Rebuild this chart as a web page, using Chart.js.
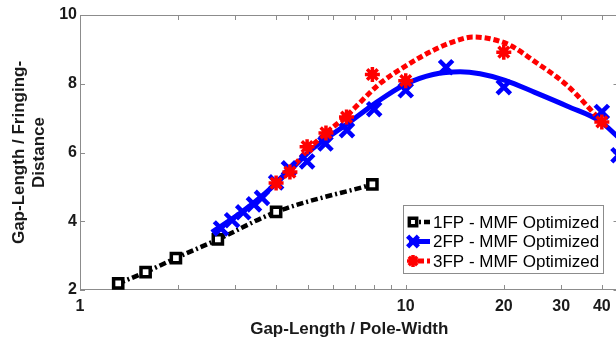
<!DOCTYPE html>
<html>
<head>
<meta charset="utf-8">
<script src="https://cdn.jsdelivr.net/npm/chart.js@4/dist/chart.umd.min.js"></script>
<style>
  html, body { margin: 0; padding: 0; background: #fff; overflow: hidden; width: 616px; height: 345px; }
  canvas { display: block; }
</style>
</head>
<body>
<canvas id="c" width="620" height="345"></canvas>
<script>
// ---- data ----
const legendLabels = ['1FP - MMF Optimized', '2FP - MMF Optimized', '3FP - MMF Optimized'];

// 1FP measured points (black squares, dash-dot line)
const fp1X = [1.31, 1.59, 1.97, 2.65, 4.0, 7.9];
const fp1Y = [2.19, 2.52, 2.93, 3.47, 4.27, 5.07];

// 2FP measured points (blue crosses)
const fp2X = [2.71, 2.93, 3.17, 3.42, 3.62, 4.0, 4.38, 4.98, 5.67, 6.6, 8.0, 10, 13.3, 20, 40, 45];
const fp2Y = [3.79, 4.03, 4.26, 4.49, 4.68, 5.13, 5.54, 5.74, 6.26, 6.65, 7.26, 7.81, 8.48, 7.90, 7.18, 5.92];

// 3FP measured points (red asterisks)
const fp3X = [4.0, 4.41, 4.98, 5.69, 6.58, 7.9, 10, 20, 40];
const fp3Y = [5.11, 5.43, 6.17, 6.57, 7.03, 8.27, 8.09, 8.92, 6.89];

// 2FP fitted curve (blue solid)
const fit2X = [2.54, 3.10, 3.70, 4.41, 5.19, 6.59, 8.05, 9.95, 12.13, 14.68, 16.91, 20.18, 24.9, 31.5, 39.5, 45];
const fit2Y = [3.68, 4.23, 4.81, 5.48, 6.12, 6.82, 7.43, 7.98, 8.27, 8.35, 8.29, 8.10, 7.75, 7.34, 6.91, 6.44];

// 3FP fitted curve (red dashed)
const fit3X = [4.0, 4.41, 4.98, 5.69, 6.60, 8.34, 10.09, 12.13, 14.37, 16.09, 18.15, 20.9, 24.6, 31.3, 40];
const fit3Y = [5.10, 5.48, 6.06, 6.56, 7.08, 8.01, 8.54, 8.97, 9.26, 9.36, 9.31, 9.12, 8.68, 7.95, 6.89];

// axis ticks
const xTickValues = [1, 2, 3, 4, 5, 6, 7, 8, 9, 10, 20, 30, 40];
const xLabelValues = [1, 10, 20, 30, 40];
const yTickValues = [2, 4, 6, 8, 10];

// ---- helpers ----
const pts = (xs, ys) => xs.map((x, i) => ({ x: x, y: ys[i] }));
const FONT = "'Liberation Sans', Arial, sans-serif";
const BLACK = '#000000', BLUE = '#0000ff', RED = '#ff0000';

const lineStyles = [
  { color: BLACK, width: 4.5, dash: [7, 3, 2, 3], point: 'rect', radius: 6.5, pbw: 3.5, bg: '#ffffff' },
  { color: BLUE, width: 5, dash: [], point: 'crossRot', radius: 9.5, pbw: 4.5, bg: BLUE },
  { color: RED, width: 5, dash: [6, 3], point: 'star', radius: 7.5, pbw: 3.5, bg: RED }
];

const framePlugin = {
  id: 'frame',
  beforeDatasetsDraw(chart) {
    const { ctx, chartArea: a, scales: { x, y } } = chart;
    ctx.save();
    ctx.strokeStyle = '#8c8c8c';
    ctx.lineWidth = 1;
    ctx.strokeRect(Math.round(a.left) + 0.5, Math.round(a.top) + 0.5,
      Math.round(a.right - a.left) - 1, Math.round(a.bottom - a.top) - 1);
    ctx.beginPath();
    x.ticks.forEach(t => {
      const px = Math.round(x.getPixelForValue(t.value)) + 0.5;
      ctx.moveTo(px, a.bottom); ctx.lineTo(px, a.bottom - 5);
      ctx.moveTo(px, a.top); ctx.lineTo(px, a.top + 5);
    });
    y.ticks.forEach(t => {
      const py = Math.round(y.getPixelForValue(t.value)) + 0.5;
      ctx.moveTo(a.left, py); ctx.lineTo(a.left + 5, py);
      ctx.moveTo(a.right, py); ctx.lineTo(a.right - 5, py);
    });
    ctx.stroke();
    ctx.restore();
  }
};

const legendPlugin = {
  id: 'boxLegend',
  afterDraw(chart, args, opts) {
    const { ctx } = chart;
    ctx.save();
    ctx.fillStyle = '#ffffff';
    ctx.fillRect(opts.left, opts.top, opts.width, opts.height);
    ctx.strokeStyle = '#8c8c8c';
    ctx.lineWidth = 1;
    ctx.strokeRect(opts.left + 0.5, opts.top + 0.5, opts.width, opts.height);
    ctx.font = '17px ' + FONT;
    ctx.textBaseline = 'middle';
    ctx.textAlign = 'left';
    legendLabels.forEach((label, i) => {
      const s = lineStyles[i];
      const yy = opts.top + opts.firstRow + i * opts.rowGap;
      ctx.save();
      ctx.strokeStyle = s.color;
      ctx.lineWidth = s.width;
      ctx.setLineDash(s.dash);
      ctx.beginPath();
      ctx.moveTo(opts.left + 6, yy);
      ctx.lineTo(opts.left + 27, yy);
      ctx.stroke();
      ctx.restore();
      ctx.save();
      ctx.strokeStyle = s.color;
      ctx.fillStyle = s.bg;
      ctx.lineWidth = s.pbw;
      Chart.helpers.drawPoint(ctx, { pointStyle: s.point, radius: s.radius * 0.8, rotation: 0, borderWidth: s.pbw }, opts.left + 10, yy);
      ctx.restore();
      ctx.fillStyle = '#000000';
      ctx.fillText(label, opts.left + 30, yy + 1);
    });
    ctx.restore();
  }
};

const markerSet = (label, xs, ys, s, order) => ({
  label: label,
  data: pts(xs, ys),
  showLine: false,
  pointStyle: s.point,
  pointRadius: s.radius,
  pointBorderWidth: s.pbw,
  pointBorderColor: s.color,
  pointBackgroundColor: s.bg,
  borderColor: s.color,
  order: order
});

const lineSet = (label, xs, ys, s, order) => ({
  label: label,
  data: pts(xs, ys),
  showLine: true,
  pointRadius: 0,
  borderColor: s.color,
  borderWidth: s.width,
  borderDash: s.dash,
  tension: 0.4,
  cubicInterpolationMode: 'monotone',
  fill: false,
  order: order
});

new Chart(document.getElementById('c'), {
  type: 'scatter',
  data: {
    datasets: [
      markerSet(legendLabels[2], fp3X, fp3Y, lineStyles[2], 0),
      markerSet(legendLabels[1], fp2X, fp2Y, lineStyles[1], 1),
      markerSet(legendLabels[0], fp1X, fp1Y, lineStyles[0], 2),
      lineSet('3FP fit', fit3X, fit3Y, lineStyles[2], 3),
      lineSet('2FP fit', fit2X, fit2Y, lineStyles[1], 4),
      lineSet('1FP line', fp1X, fp1Y, lineStyles[0], 5)
    ]
  },
  options: {
    responsive: false,
    animation: false,
    events: [],
    layout: { autoPadding: false, padding: { top: 15, right: 1.5, left: 0, bottom: 0 } },
    plugins: {
      legend: { display: false },
      tooltip: { enabled: false },
      boxLegend: { left: 403, top: 205, width: 200, height: 68, firstRow: 17, rowGap: 19.5 }
    },
    scales: {
      x: {
        type: 'logarithmic',
        min: 1,
        max: 45,
        afterBuildTicks: (scale) => { scale.ticks = xTickValues.map(v => ({ value: v })); },
        afterFit: (scale) => { scale.height = 55; },
        grid: { display: false, drawTicks: false },
        border: { display: false },
        ticks: {
          autoSkip: false,
          maxRotation: 0,
          padding: 7,
          color: '#1a1a1a',
          font: { family: FONT, size: 16, weight: 'bold' },
          callback: (v) => xLabelValues.includes(v) ? String(v) : ''
        },
        title: {
          display: true,
          text: 'Gap-Length / Pole-Width',
          color: '#1a1a1a',
          font: { family: FONT, size: 17, weight: 'bold' },
          padding: { top: 0, bottom: 5 }
        }
      },
      y: {
        min: 2,
        max: 10,
        afterBuildTicks: (scale) => { scale.ticks = yTickValues.map(v => ({ value: v })); },
        afterFit: (scale) => { scale.width = 80; },
        grid: { display: false, drawTicks: false },
        border: { display: false },
        ticks: {
          padding: 3,
          color: '#1a1a1a',
          font: { family: FONT, size: 16, weight: 'bold' }
        },
        title: {
          display: true,
          text: ['Gap-Length / Fringing-', 'Distance'],
          color: '#1a1a1a',
          font: { family: FONT, size: 17, weight: 'bold' },
          padding: { top: 9, bottom: 0 }
        }
      }
    }
  },
  plugins: [framePlugin, legendPlugin]
});
</script>
</body>
</html>
